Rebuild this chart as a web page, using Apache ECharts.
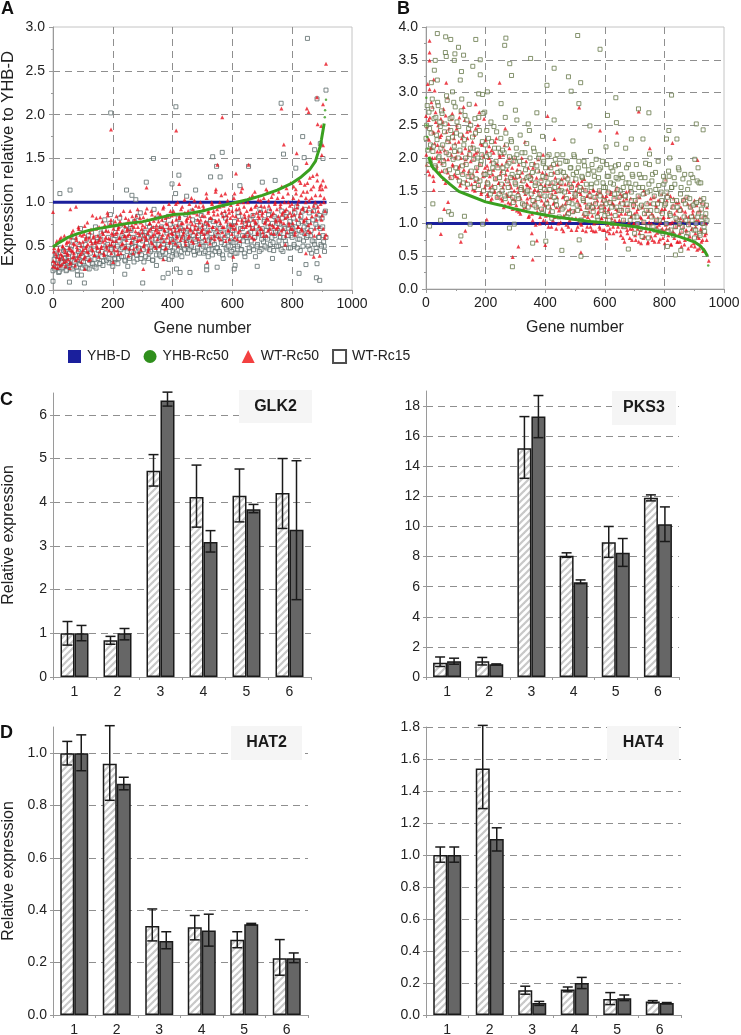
<!DOCTYPE html>
<html><head><meta charset="utf-8">
<style>html,body{margin:0;padding:0;background:#fff}#c{width:741px;height:1035px}</style>
<script src="https://cdn.jsdelivr.net/npm/echarts@6/dist/echarts.min.js"></script>
</head><body><div id="c"></div>
<script>
// Panel A : y values read along the gene axis
const aRedY=[.27,.44,.31,.52,.38,.25,.47,.35,.58,.41,.29,.5,.36,.62,.43,.33,.55,.4,.48,.3,.6,.45,.37,.68,.42,.52,.34,.57,.46,.72,.39,.63,.5,.43,.55,.36,.73,.48,.6,.44,.52,.34,.66,.56,.47,.85,.6,.4,.54,.7,.5,.62,.38,.57,.83,.48,.66,.55,.42,.74,.6,.5,.88,.67,.45,.58,.8,.52,.63,.7,.46,.78,.56,.66,.41,.72,.6,.86,.52,.68,.75,.48,.62,.82,.57,.7,.39,.64,.9,.54,.74,.6,.47,.8,.67,.85,.56,.72,.43,.63,.77,.58,.66,.83,.52,.72,.6,.93,.65,.47,.76,.7,.55,.86,.62,.79,.5,.68,.74,.58,.88,.66,.72,.52,.8,.63,.95,.69,.47,.76,.6,.84,.71,.55,.9,.65,.78,.57,.86,.68,.98,.62,.74,.5,.82,.7,.92,.6,.76,.66,1.03,.56,.8,.72,.9,.62,.84,.68,1.05,.75,.54,.88,.7,.96,.64,.8,.58,.77,1.0,.66,.85,.7,.93,.6,.78,1.1,.66,.88,.74,.53,.82,1.0,.72,.9,.62,.79,1.15,.7,.86,.6,.95,.76,1.08,.66,.84,.72,.9,.56,.8,1.02,.68,.88,.75,.97,.64,.85,.74,1.1,.7,.92,.58,.8,1.0,.68,.88,.77,1.16,.62,.95,.83,.72,.9,.66,.8,1.05,.74,.93,.6,.86,.7,1.12,.78,.97,.64,.84,.73,.9,1.02,.7,.88,.62,.95,.78,1.15,.82,.68,1.02,.75,.92,.65,.86,1.1,.72,.98,.8,.7,1.05,.84,.64,.95,.78,1.18,.88,.7,1.0,.82,.92,.66,1.1,.76,.96,1.22,.85,.7,1.05,.92,.63,1.15,.8,.98,.72,1.25,.88,1.08,.68,.94,.78,1.2,1.0,.82,1.12,.68,.95,1.28,.76,1.05,.9,1.18,.62,1.0,.86,1.32,.95,.72,1.15,1.08,1.2,.85,1.25,1.0,.6,1.18];
const aRedY2=[.33,.48,.26,.41,.56,.3,.45,.37,.28,.6,.39,.5,.32,.46,.27,.53,.42,.35,.55,.47,.31,.65,.44,.53,.38,.28,.6,.49,.36,.7,.54,.41,.32,.62,.46,.64,.38,.58,.5,.77,.43,.6,.35,.69,.53,.45,.62,.4,.56,.82,.48,.55,.72,.44,.6,.5,.78,.64,.4,.57,.68,.47,.85,.59,.52,.76,.42,.65,.56,.74,.5,.64,.84,.45,.7,.59,.78,.42,.66,.53,.9,.61,.73,.49,.68,.62,.8,.47,.69,.55,.84,.42,.72,.6,.76,.5,.92,.65,.57,.82,.46,.7,.74,.5,.62,.88,.57,.8,.44,.68,.76,.6,.9,.53,.72,.64,.83,.48,.7,.66,.78,.5,.86,.6,.72,.93,.56,.68,.82,.48,.75,.63,.98,.54,.7,.85,.64,.9,.72,.53,.8,.6,1.0,.68,.84,.57,.76,.95,.63,.7,.88,.52,.78,.82,.6,.98,.7,.78,.56,.92,.66,1.02,.74,.6,.86,.7,.95,.52,.8,.68,.74,.96,.64,.84,.56,1.05,.76,.9,.68,.82,.6,.98,.72,.86,.58,1.12,.78,.92,.66,.8,1.0,.58,.88,.72,.96,.62,1.1,.78,.85,.68,.92,.58,.82,.74,.9,.7,1.05,.6,.84,.76,.98,.66,.93,.56,1.12,.8,.72,1.0,.86,.62,.78,.74,1.0,.85,.62,.92,.7,1.08,.8,.58,.95,.76,.88,.66,1.03,.82,.7,.96,.85,.66,1.05,.76,.9,.62,1.12,.8,.96,.7,.84,1.06,.74,.88,.64,1.0,.78,.92,.72,1.12,.8,.98,.68,.86,1.06,.76,.9,.62,1.16,.84,1.0,.74,.88,.7,.98,.76,1.18,.86,.66,1.1,.94,.72,1.02,.84,1.22,.7,.92,1.12,.8,.64,1.05,.9,1.22,.74,1.02,.66,1.15,.84,1.3,.96,.7,1.08,.8,1.25,.9,.65,1.18,.98,.8,1.15,.7,1.05,.9,.63];
const aRedExtra=[[913,2.58],[883,2.2],[764,2.07],[194,1.83],[412,1.82],[566,1.97],[849,2.07],[855,2.03],[885,1.89],[903,2.12],[897,1.87],[903,1.65],[772,1.66],[861,1.68],[815,1.56],[550,1.43],[654,1.43],[612,1.33],[848,1.45],[313,1.17],[422,1.21],[899,1.54],[0,.89],[58,.92],[77,.95],[302,.24],[201,.32],[516,.32],[603,.38],[846,.42],[892,.39],[872,.38],[777,.52],[56,.25],[106,.24],[369,.35]];
const aSqY=[.22,.35,.26,.42,.3,.2,.38,.24,.33,.45,.28,.37,.23,.3,.42,.25,.5,.34,.27,.6,.36,.22,.44,.3,.7,.33,.38,.28,.52,.4,.25,.62,.34,.46,.3,.56,.27,.72,.42,.36,.55,.3,.65,.44,.33,.8,.5,.37,.6,.31,.86,.48,.4,.58,.35,.7,.5,.36,.82,.46,.62,.38,.54,.33,.74,.47,.6,.38,.68,.53,.42,.78,.5,.35,.63,.45,.88,.4,.56,.32,.66,.48,.6,.36,.72,.44,.58,.34,.92,.52,.4,.62,.46,.7,.38,.56,.48,.8,.42,.65,.52,.35,.75,.58,.45,.68,.55,.42,.62,.82,.5,.7,.38,.6,.47,.66,.54,.42,.72,.58,.48,.9,.62,.4,.55,.78,.45,.68,.52,.85,.6,.42,.72,.5,.65,.38,.58,.8,.46,.55,.7,.44,.62,.48,.75,.42,.58,.68,.36,.52,.82,.46,.62,.72,.4,.55,.68,.46,.78,.58,.42,.88,.52,.7,.46,.62,.8,.38,.6,.55,.75,.44,.66,.5,.85,.6,.38,.72,.52,.64,.92,.46,.7,.55,.8,.6,.48,.72,.9,.52,.66,.76,.45,.62,.82,.68,.5,.75,.6,.9,.44,.72,.56,.84,.66,.48,.78,.62,.6,.82,.5,.72,.95,.58,.68,.45,.78,.9,.56,.64,.76,.7,.5,.88,.62,.42,.8,.55,.95,.48,.72,.6,.85,.52,.82,.62,.5,.9];
const aSqY2=[.3,.24,.4,.27,.34,.21,.48,.31,.26,.36,.44,.22,.32,.38,.28,.46,.24,.56,.32,.4,.26,.35,.52,.29,.42,.25,.32,.46,.26,.58,.36,.24,.42,.66,.3,.5,.35,.25,.6,.45,.3,.58,.38,.28,.68,.42,.34,.52,.36,.76,.46,.3,.52,.36,.62,.42,.3,.56,.74,.38,.48,.6,.34,.68,.44,.5,.36,.7,.44,.6,.32,.54,.4,.84,.48,.58,.36,.66,.46,.62,.38,.54,.76,.42,.64,.5,.34,.7,.46,.58,.82,.52,.4,.6,.72,.44,.56,.36,.68,.5,.84,.44,.62,.38,.56,.48,.72,.4,.64,.52,.76,.44,.58,.68,.46,.86,.52,.6,.46,.66,.5,.8,.44,.58,.7,.48,.62,.42,.74,.54,.5,.66,.44,.76,.56,.46,.68,.6,.4,.78,.52,.64,.48,.62,.44,.7,.54,.4,.86,.6,.48,.66,.5,.74,.56,.44,.54,.72,.42,.64,.5,.84,.58,.46,.7,.56,.42,.76,.62,.64,.48,.8,.56,.7,.46,.6,.78,.5,.66,.44,.88,.58,.62,.78,.5,.68,.58,.86,.46,.72,.6,.54,.84,.66,.5,.76,.56,.66,.46,.82,.6,.7,.52,.88,.62,.74,.48,.68,.7,.52,.88,.64,.48,.76,.58,.84,.66,.5,.72,.92,.6,.62,.78,.46,.68,.56,.9,.52,.75,.44,.82,.6,.7,.5,.72,.55,.88,.6];
const aSqExtra=[[851,2.87],[913,2.28],[883,2.18],[763,2.13],[411,2.09],[193,2.02],[835,1.75],[771,1.55],[566,1.57],[534,1.52],[336,1.5],[840,1.51],[547,1.41],[654,1.41],[812,1.39],[421,1.31],[527,1.29],[559,1.29],[312,1.23],[398,1.21],[743,1.25],[700,1.23],[903,1.5],[875,1.6],[894,1.67],[23,1.1],[57,1.14],[246,1.14],[264,1.08],[277,1.03],[447,1.07],[477,1.14],[625,1.19],[410,1.1],[0,.1],[55,.09],[105,.08],[300,.08],[240,.18],[368,.14],[385,.19],[413,.24],[425,.2],[458,.2],[514,.27],[514,.23],[549,.26],[609,.28],[606,.24],[683,.27],[734,.36],[794,.36],[823,.19],[846,.29],[883,.3],[881,.14],[892,.11],[908,.44],[82,.17],[95,.17],[346,.28],[250,.27],[200,.27]];
const aGreen=[[0,.49],[20,.54],[50,.6],[80,.64],[120,.68],[150,.7],[200,.73],[250,.76],[300,.78],[350,.82],[400,.86],[450,.87],[500,.9],[550,.95],[600,.99],[650,1.03],[700,1.08],[750,1.14],[800,1.22],[830,1.29],[860,1.38],[878,1.47],[885,1.55],[893,1.63],[898,1.72],[903,1.82],[907,1.9]];
const aGreenTail=[[909,1.97],[910,2.05],[913,2.17]];
const aBlue=[[0,1],[915,1]];
// Panel B
const bRedY=[2.64,1.9,2.3,2.58,1.75,2.15,2.85,2.0,2.4,1.65,2.22,2.7,1.85,2.1,2.5,1.95,2.32,2.6,1.8,2.18,2.75,1.98,1.62,2.4,2.08,1.78,2.52,2.25,1.7,2.05,2.68,1.88,2.3,2.0,1.72,2.45,2.1,1.85,2.62,1.58,2.0,2.3,1.78,2.78,1.92,2.15,1.65,2.4,2.05,1.8,2.55,1.95,1.6,2.25,1.75,2.05,1.5,2.45,1.85,2.1,1.68,2.7,1.9,1.45,2.2,1.78,2.02,1.55,2.28,1.65,1.88,1.42,2.0,1.72,1.35,2.12,1.58,1.82,1.48,2.25,1.7,1.92,1.4,1.62,2.05,1.75,1.38,1.9,1.55,1.25,2.2,1.68,1.45,1.82,1.32,2.0,1.6,1.42,1.72,1.22,1.95,1.5,1.35,1.7,1.2,1.55,1.9,1.42,1.15,1.65,1.78,1.3,1.5,2.25,1.25,1.6,1.38,1.85,1.12,1.55,1.28,1.72,1.05,1.48,1.92,1.35,1.62,1.18,1.5,1.8,1.0,1.42,1.68,1.22,2.05,1.3,1.58,1.12,1.75,1.35,.95,1.6,1.25,1.88,1.45,1.05,1.52,1.32,1.7,.92,1.4,1.62,1.2,1.5,1.02,1.68,1.28,.88,1.42,1.6,1.15,1.35,1.72,.95,1.48,1.22,1.55,1.08,1.38,1.65,1.2,1.5,.9,1.35,1.62,1.05,1.28,1.45,.98,1.55,1.15,1.68,1.32,.88,1.42,1.1,1.25,1.48,.95,1.3,1.12,1.52,.88,1.25,1.4,1.02,1.35,1.18,1.5,.92,1.28,1.08,1.42,1.2,.9,1.38,1.1,1.5,.98,1.22,.85,1.45,1.15,1.32,.95,1.28,1.05,1.52,.88,1.2,1.4,1.05,1.45,.82,1.22,.95,1.35,.72,1.15,1.48,.9,1.28,1.02,.78,1.38,1.12,.92,1.25,1.0,1.3,.75,1.18,.92,1.42,.85,1.1,.7,1.25,1.02,1.5,.8,1.15,.95,1.32,.72,1.2,.88,1.38,1.0,.75,1.12,1.42,.82,1.28,.95,1.08,.72,1.35,1.02,.9,1.22,.78,1.1,.7,1.3,.92,1.45,.82,1.18,1.0,.68,1.25,.88,1.38,.78,1.05,.95,1.2,.72,1.32,.85,1.08,.65,1.2,.95,1.38,.75,1.12,.88,1.3,.62,1.02,.8,1.25,.92,1.15,.7,1.35,.85,1.05,.6,1.18,.78,1.38,.92,.72,1.1,.58,1.3,.82,1.0,.75];
const bRedY2=[2.05,2.48,1.8,2.28,2.62,1.95,2.15,2.78,1.72,2.38,2.0,2.55,1.88,2.2,2.42,1.78,2.1,2.35,1.92,2.55,1.68,2.12,2.65,1.82,2.28,1.98,2.45,1.72,2.15,2.6,1.9,2.38,1.75,2.22,2.02,2.5,1.7,2.25,1.88,2.7,1.62,2.08,2.35,1.82,2.58,1.98,1.55,2.3,1.75,2.12,2.42,1.7,2.18,1.52,1.98,2.35,1.65,2.08,1.8,2.5,1.58,1.92,2.22,1.48,2.05,1.72,2.6,1.85,1.6,2.1,1.45,1.82,2.18,1.55,1.95,1.38,1.75,2.08,1.5,1.68,2.3,1.42,1.88,1.62,2.02,1.48,1.8,1.35,2.05,1.6,1.28,1.75,1.95,1.42,1.65,2.15,1.3,1.55,1.85,1.38,1.7,2.0,1.62,1.28,1.82,1.48,1.18,1.72,1.38,2.0,1.55,1.22,1.68,1.45,1.95,1.32,1.58,1.1,1.75,1.4,1.65,1.15,1.85,1.32,1.52,.98,1.7,1.25,1.98,1.45,1.1,1.6,1.35,1.78,1.05,1.5,1.28,1.7,1.02,1.5,1.85,1.18,1.4,.95,1.62,1.3,1.78,1.1,1.48,1.25,1.9,1.0,1.55,1.25,1.6,.92,1.4,1.12,1.7,1.3,.98,1.52,1.2,1.62,1.05,1.38,.9,1.58,1.18,1.45,1.4,1.08,1.58,.95,1.3,1.48,1.0,1.22,1.65,.9,1.38,1.12,1.52,1.25,.95,1.42,1.18,1.05,1.4,.9,1.22,1.5,1.0,1.32,.88,1.45,1.15,1.25,.95,1.48,1.08,1.35,.9,1.3,1.25,1.02,1.42,.88,1.18,1.35,.92,1.48,1.08,1.3,.85,1.4,1.0,1.22,1.55,.95,1.12,1.32,.88,1.15,1.42,.78,1.05,1.28,.95,1.38,.85,1.2,1.5,.92,1.1,.75,1.3,1.0,1.15,.82,1.35,.98,1.22,.72,1.4,.9,1.08,1.28,.78,1.02,1.45,.88,1.2,.7,1.1,1.02,1.3,.8,1.15,.92,1.4,.72,1.05,1.25,.86,1.35,.98,.76,1.18,1.45,.92,1.08,.88,1.22,.98,1.35,.75,1.1,.92,1.42,.68,1.02,1.28,.85,1.15,.95,1.32,.72,1.08,.98,.72,1.25,.88,1.35,1.05,.68,1.18,.9,1.4,.78,1.1,.98,1.28,.66,.92,1.2,1.1,.65,.95,1.28,.8,1.05,.62,1.2,.88,1.32,.75,1.0,.6,1.12,.85,1.25];
const bRedExtra=[[12,3.79],[12,3.61],[12,3.49],[6,3.13],[26,3.2],[68,3.15],[247,3.15],[12,3.05],[29,3.03],[73,2.92],[514,2.77],[714,2.71],[167,2.82],[408,2.64],[584,2.42],[266,2.45],[641,2.39],[431,2.29],[751,2.15],[827,2.23],[911,1.97],[804,1.67],[291,.49],[358,.45],[520,.56],[310,.65],[117,.72],[132,.89],[50,.84],[61,1.22],[74,1.33],[26,1.51],[606,.77],[949,.43],[204,1.06],[355,.85],[400,.67],[372,.74]];
const bSqY=[2.3,2.8,1.9,2.45,2.2,2.75,2.1,2.6,1.88,2.35,2.85,2.0,2.55,2.15,2.68,1.95,2.4,1.8,2.95,2.25,2.05,2.6,1.7,2.32,2.85,2.1,1.85,2.55,2.0,1.65,2.35,2.9,1.75,2.2,2.65,1.9,1.6,2.45,2.05,2.5,1.72,2.15,1.55,2.38,1.85,2.0,2.62,1.65,1.95,2.25,1.5,2.7,1.75,2.42,1.6,2.05,1.45,2.25,1.85,2.48,1.55,1.95,1.4,2.15,1.7,2.3,1.5,1.85,2.08,1.38,2.2,1.65,1.92,1.45,2.28,1.75,1.32,2.0,1.6,2.05,1.42,1.78,2.35,1.55,1.3,1.9,2.08,1.48,1.7,1.25,2.42,1.68,1.9,1.35,2.1,1.58,1.25,1.8,2.0,1.45,1.65,1.15,1.92,1.52,1.85,1.3,1.62,2.05,1.42,1.75,1.18,1.9,1.55,1.35,2.05,1.65,1.1,1.8,1.5,2.05,1.25,1.72,1.38,1.95,1.15,1.6,1.85,1.3,1.75,2.02,1.42,1.78,1.2,1.95,1.55,1.05,1.7,1.35,1.88,1.5,1.15,1.75,1.28,2.1,1.6,1.25,1.8,1.4,1.98,1.1,1.7,1.5,1.85,1.2,1.62,1.35,1.55,1.9,1.15,1.72,1.32,1.85,1.0,1.6,1.45,1.88,1.25,1.68,1.4,1.5,1.2,1.7,1.05,1.42,1.62,1.3,1.9,1.15,1.55,1.35,1.72,1.1,1.35,1.9,1.0,1.55,1.25,1.7,.8,1.45,1.15,1.92,1.3,.95,1.6,1.5,1.1,1.75,1.3,.9,1.52,1.2,1.95,1.05,1.45,1.35,.85,1.6,1.65,1.0,1.4,1.8,1.15,.9,1.55,1.25,1.7,.95,1.35,1.05,1.82,1.2,1.55,.95,1.35,1.75,1.05,1.4,.85,1.62,1.25,1.1,1.7,.9,1.3,1.0,1.65,1.15,.85,1.35,1.1,1.3,.95,1.08,1.28];
const bSqY2=[2.5,2.12,2.7,1.95,2.38,2.9,2.18,1.85,2.62,2.28,2.8,2.02,2.48,2.72,2.2,1.9,2.52,2.08,2.88,2.3,1.82,2.42,2.62,1.98,2.18,2.78,2.38,1.78,2.48,2.12,2.72,1.88,1.62,2.28,2.0,2.58,1.72,2.82,2.15,1.8,2.32,1.98,2.6,1.68,2.12,1.58,2.42,1.9,2.05,2.68,1.75,2.2,2.02,1.62,2.3,1.78,2.55,1.5,1.92,2.15,1.68,2.4,1.85,1.45,2.08,1.6,2.12,1.78,1.42,2.38,1.88,1.55,2.02,1.7,2.25,1.4,1.95,1.62,2.15,1.72,1.38,1.95,1.52,2.08,1.65,1.28,1.82,2.22,1.5,1.72,2.0,1.45,1.78,2.15,1.28,1.62,1.88,1.38,2.05,1.55,1.22,1.72,1.95,1.42,1.7,2.02,1.25,1.52,1.85,1.08,1.62,1.4,1.98,1.28,1.78,1.5,1.92,1.62,1.22,1.78,1.48,1.95,1.1,1.68,1.32,1.85,1.55,1.18,2.05,1.45,1.68,1.28,1.85,1.5,1.05,1.72,1.38,1.95,1.15,1.6,1.25,1.82,1.42,1.55,1.9,1.18,1.72,1.3,1.62,1.05,1.82,1.42,1.25,1.95,1.55,1.12,1.3,1.72,1.48,1.05,1.62,1.25,1.8,1.38,1.12,1.7,1.52,1.9,1.2,1.75,1.3,1.55,.95,1.42,1.85,1.2,1.62,1.05,1.48,1.75,1.28,.85,1.6,1.1,1.42,1.75,.92,1.28,1.55,1.02,1.7,1.2,1.48,.78,1.9,1.2,1.65,.95,1.42,1.78,1.05,1.3,1.58,.88,1.48,1.15,1.72,1.28,1.3,1.48,.88,1.72,1.12,1.55,1.35,.82,1.6,1.08,1.25,1.85,1.0,1.45,.88,1.68,1.1,1.3,.8,1.52,.98,1.38,1.75,1.05,1.28,.78,.9,1.32,1.1,1.62,.82,1.22,1.0,1.38,.88,1.15,1.05];
const bSqExtra=[[38,3.9],[66,3.85],[83,3.81],[109,3.69],[167,3.81],[268,3.83],[264,3.72],[509,3.87],[584,3.66],[65,3.61],[97,3.59],[126,3.57],[68,3.55],[31,3.49],[95,3.49],[182,3.5],[351,3.52],[157,3.4],[281,3.44],[28,3.34],[119,3.32],[182,3.27],[287,3.26],[430,3.37],[478,3.24],[519,3.15],[115,3.19],[18,3.15],[38,3.19],[406,3.11],[487,3.02],[89,3.01],[177,2.98],[190,2.97],[206,3.01],[637,2.92],[824,2.96],[252,2.83],[513,2.83],[300,2.73],[713,2.75],[748,2.69],[372,2.69],[609,2.65],[266,2.62],[430,2.58],[305,2.58],[639,2.54],[907,2.52],[930,2.43],[550,2.49],[815,2.42],[343,2.52],[689,2.29],[728,2.29],[807,2.29],[842,2.29],[493,2.26],[391,2.33],[604,2.17],[640,2.21],[670,2.15],[750,2.06],[818,2.0],[902,1.98],[913,1.85],[922,1.62],[290,.34],[520,.5],[456,.59],[837,.52],[855,.59],[679,.61],[810,.65],[358,.7],[402,.73],[514,.75],[117,.81],[49,1.05],[23,1.3],[76,1.18],[85,1.14],[129,1.11],[280,.93],[12,.96],[148,.99],[190,.99],[296,.99]];
const bGreen=[[10,2.02],[20,1.87],[50,1.72],[80,1.6],[110,1.49],[150,1.42],[200,1.33],[250,1.28],[300,1.22],[350,1.17],[400,1.13],[450,1.09],[500,1.06],[550,1.03],[600,1.01],[650,.98],[700,.95],[750,.91],[800,.86],[850,.8],[900,.72],[920,.66],[935,.58],[945,.5]];
const bGreenTail=[[1,2.92],[2,2.5],[4,2.32],[6,2.14],[947,.36]];
const bBlue=[[0,1],[945,1]];
const aGenes=915, bGenes=945;
// Bar panels
const groups=['1','2','3','4','5','6'];
const glkHatch=[1,.84,4.72,4.12,4.15,4.21], glkDark=[1,1,6.33,3.09,3.84,3.37];
const glkHatchErr=[[.73,1.27],[.75,.93],[4.37,5.09],[3.43,4.85],[3.55,4.76],[3.4,5.0]];
const glkDarkErr=[[.83,1.18],[.85,1.11],[6.2,6.52],[2.86,3.35],[3.76,3.95],[1.77,4.95]];
const pksHatch=[.95,1.05,15.2,8.05,8.95,11.9], pksDark=[1.05,.85,17.3,6.3,8.25,10.15];
const pksHatchErr=[[.7,1.33],[.8,1.3],[13.2,17.3],[7.95,8.25],[7.95,10],[11.7,12.1]];
const pksDarkErr=[[.85,1.25],[.8,.87],[15.9,18.7],[6.2,6.45],[7.35,9.2],[9.0,11.3]];
const hat2Hatch=[1,.96,.34,.335,.287,.217], hat2Dark=[1,.883,.283,.323,.347,.217];
const hat2HatchErr=[[.955,1.045],[.82,1.105],[.283,.405],[.287,.38],[.257,.318],[.152,.288]];
const hat2DarkErr=[[.933,1.07],[.86,.908],[.253,.318],[.263,.385],[.345,.35],[.2,.237]];
const hat4Hatch=[1,1.54,.155,.16,.1,.085], hat4Dark=[1,1.1,.075,.2,.105,.075];
const hat4HatchErr=[[.955,1.05],[1.29,1.81],[.13,.18],[.145,.175],[.065,.14],[.075,.09]];
const hat4DarkErr=[[.955,1.05],[1.025,1.17],[.06,.085],[.165,.235],[.09,.125],[.07,.078]];

const FONT='"Liberation Sans",Arial,sans-serif', TXT='#222', AX='#9a9a9a', GRID='#8f8f8f';
const dash=[7,5];
const grids=[], xAxes=[], yAxes=[], series=[];

function scatterPanel(left,right,yMax,yName,pal){
  const i=grids.length;
  grids.push({left,right:741-right,top:27,bottom:1035-(yMax==3?290:289),outerBoundsMode:'none',show:true,borderColor:'#c4c4c4',borderWidth:1,backgroundColor:'#fff'});
  xAxes.push({type:'value',gridIndex:i,min:0,max:1000,interval:200,
    name:'Gene number',nameLocation:'middle',nameGap:31,nameTextStyle:{fontFamily:FONT,fontSize:16,color:TXT},
    axisLine:{show:true,onZero:false,lineStyle:{color:AX}},axisTick:{show:true,length:4,lineStyle:{color:AX}},
    minorTick:{show:true,splitNumber:2,length:2,lineStyle:{color:AX}},
    axisLabel:{fontFamily:FONT,fontSize:14,color:TXT,margin:7,formatter:v=>String(v)},
    splitLine:{show:true,showMinLine:false,showMaxLine:false,lineStyle:{color:GRID,type:dash}}});
  yAxes.push({type:'value',gridIndex:i,min:0,max:yMax,interval:.5,
    name:yName,nameLocation:'middle',nameGap:36,nameTextStyle:{fontFamily:FONT,fontSize:16.6,color:TXT},
    axisLine:{show:true,lineStyle:{color:AX}},axisTick:{show:true,length:4,lineStyle:{color:AX}},
    minorTick:{show:true,splitNumber:2,length:2,lineStyle:{color:AX}},
    axisLabel:{fontFamily:FONT,fontSize:14,color:TXT,margin:8,formatter:v=>v.toFixed(1)},
    splitLine:{show:true,showMinLine:false,showMaxLine:false,lineStyle:{color:GRID,type:dash}}});
  const s={xAxisIndex:i,yAxisIndex:i,silent:true};
  const blue={...s,type:'line',name:'YHB-D',data:pal.blue,showSymbol:false,symbol:'none',lineStyle:{color:'#1a1f9c',width:3},itemStyle:{color:'#1a1f9c'},z:2};
  const sq={...s,type:'scatter',name:'WT-Rc15',data:pal.sq,symbol:'rect',symbolSize:4,itemStyle:{color:'rgba(255,255,255,0.55)',borderColor:pal.sqColor,borderWidth:1},z:pal.sqZ};
  const red={...s,type:'scatter',name:'WT-Rc50',data:pal.red,symbol:'triangle',symbolSize:4,itemStyle:{color:'#e8131f'},z:4};
  const green={...s,type:'line',name:'YHB-Rc50',data:pal.green,showSymbol:false,symbol:'none',lineStyle:{color:'#3aa020',width:3},itemStyle:{color:'#3aa020'},z:6};
  const tail={...s,type:'scatter',name:'YHB-Rc50',data:pal.tail,symbol:'circle',symbolSize:2.5,itemStyle:{color:'#3aa020'},z:6};
  series.push(blue,sq,red,green,tail);
}

const errRender=(off)=>function(params,api){
  const cx=api.coord([api.value(0),0])[0]+off;
  const lo=api.coord([api.value(0),api.value(1)])[1], hi=api.coord([api.value(0),api.value(2)])[1];
  const st={stroke:'#1a1a1a',lineWidth:1.5,fill:null};
  return {type:'group',children:[
    {type:'line',shape:{x1:cx,y1:lo,x2:cx,y2:hi},style:st},
    {type:'line',shape:{x1:cx-5,y1:lo,x2:cx+5,y2:lo},style:st},
    {type:'line',shape:{x1:cx-5,y1:hi,x2:cx+5,y2:hi},style:st}]};
};
// "/" hatch tile for the light bars
const tile=document.createElement('canvas');tile.width=7;tile.height=7;
(function(){const g=tile.getContext('2d');g.fillStyle='#fff';g.fillRect(0,0,7,7);g.strokeStyle='#c8c8c8';g.lineWidth=2.2;
  [[-7,7,7,-7],[0,7,7,0],[0,14,14,0]].forEach(l=>{g.beginPath();g.moveTo(l[0],l[1]);g.lineTo(l[2],l[3]);g.stroke();});})();
const hatchFill={image:tile,repeat:'repeat'};

function barPanel(left,right,top,bottom,yMax,interval,digits,yName,hatch,dark,hErr,dErr){
  const i=grids.length;
  grids.push({left,right:741-right,top,bottom:1035-bottom,outerBoundsMode:'none'});
  xAxes.push({type:'category',gridIndex:i,data:groups,
    axisLine:{show:true,lineStyle:{color:AX}},axisTick:{show:true,length:3,lineStyle:{color:AX}},
    axisLabel:{fontFamily:FONT,fontSize:14,color:TXT,margin:8},splitLine:{show:false}});
  yAxes.push({type:'value',gridIndex:i,min:0,max:yMax,interval,
    name:yName,nameLocation:'middle',nameGap:36,nameTextStyle:{fontFamily:FONT,fontSize:16,color:TXT},
    axisLine:{show:true,lineStyle:{color:AX}},axisTick:{show:true,length:3,lineStyle:{color:AX}},
    axisLabel:{fontFamily:FONT,fontSize:14,color:TXT,margin:6,showMaxLabel:yMax==1.8,formatter:v=>v.toFixed(digits)},
    splitLine:{show:true,showMinLine:false,showMaxLine:yMax==1.8,lineStyle:{color:GRID,type:dash}}});
  const s={xAxisIndex:i,yAxisIndex:i,silent:true};
  series.push({...s,type:'bar',name:'a'+i,data:hatch,barWidth:14,barGap:'0%',itemStyle:{color:hatchFill,borderColor:'#1a1a1a',borderWidth:1.5},z:3});
  series.push({...s,type:'bar',name:'b'+i,data:dark,barWidth:14,barGap:'0%',itemStyle:{color:'#666',borderColor:'#1a1a1a',borderWidth:1.5},z:3});
  series.push({...s,type:'custom',name:'ea'+i,data:hErr.map((e,k)=>[k,e[0],e[1]]),encode:{x:0,y:[1,2]},renderItem:errRender(-7),z:5});
  series.push({...s,type:'custom',name:'eb'+i,data:dErr.map((e,k)=>[k,e[0],e[1]]),encode:{x:0,y:[1,2]},renderItem:errRender(7),z:5});
}

const pts=(ys,span,off)=>ys.map((y,k)=>[Math.round(k*span/ys.length)+off,y]);
scatterPanel(53,352,3,'Expression relative to YHB-D',{blue:aBlue,green:aGreen,tail:aGreenTail,red:[...pts(aRedY,aGenes,0),...pts(aRedY2,aGenes,1),...aRedExtra],sq:[...pts(aSqY,aGenes,0),...pts(aSqY2,aGenes,2),...aSqExtra],sqColor:'#5c6b6b',sqZ:3});
scatterPanel(426,724,4,'',{blue:bBlue,green:bGreen,tail:bGreenTail,red:[...pts(bRedY,bGenes,0),...pts(bRedY2,bGenes,1),...bRedExtra],sq:[...pts(bSqY,bGenes,0),...pts(bSqY2,bGenes,2),...bSqExtra],sqColor:'#66784a',sqZ:5});
barPanel(53,311,393,677,6.5,1,0,'Relative expression',glkHatch,glkDark,glkHatchErr,glkDarkErr);
barPanel(426,679,391,677,19,2,0,'',pksHatch,pksDark,pksHatchErr,pksDarkErr);
barPanel(53,308,727,1015,1.1,.2,1,'Relative expression',hat2Hatch,hat2Dark,hat2HatchErr,hat2DarkErr);
barPanel(426,681,727,1015,1.8,.2,1,'',hat4Hatch,hat4Dark,hat4HatchErr,hat4DarkErr);

const letter=(t,x,y)=>({type:'text',x,y,z:50,style:{text:t,font:'bold 18px '+FONT,fill:'#111',textVerticalAlign:'middle'}});
const tag=(t,x0,y0,x1,y1)=>[
  {type:'rect',z:40,shape:{x:x0,y:y0,width:x1-x0,height:y1-y0},style:{fill:'#f5f5f5'}},
  {type:'text',z:41,x:(x0+x1)/2,y:(y0+y1)/2,style:{text:t,font:'bold 16px '+FONT,fill:'#1a1a1a',textAlign:'center',textVerticalAlign:'middle'}}];

const chart=echarts.init(document.getElementById('c'),null,{renderer:'canvas'});
chart.setOption({
  animation:false,backgroundColor:'#fff',grid:grids,xAxis:xAxes,yAxis:yAxes,series,
  legend:{left:63,top:344,itemWidth:13,itemHeight:13,itemGap:13,selectedMode:false,
    textStyle:{fontFamily:FONT,fontSize:14,color:TXT,padding:[0,0,0,1]},
    data:[
     {name:'YHB-D',icon:'rect',itemStyle:{color:'#1a1f9c'}},
     {name:'YHB-Rc50',icon:'circle',itemStyle:{color:'#2f8f1c'}},
     {name:'WT-Rc50',icon:'triangle',itemStyle:{color:'#f01010'}},
     {name:'WT-Rc15',icon:'rect',itemStyle:{color:'#fff',borderColor:'#222',borderWidth:2}}]},
  graphic:[letter('A',1,9),letter('B',397,9),letter('C',0,400),letter('D',0,733),
    ...tag('GLK2',239,390,312,423),...tag('PKS3',612,391,676,425),...tag('HAT2',231,726,302,760),...tag('HAT4',607,726,679,760)]
});
</script></body></html>
